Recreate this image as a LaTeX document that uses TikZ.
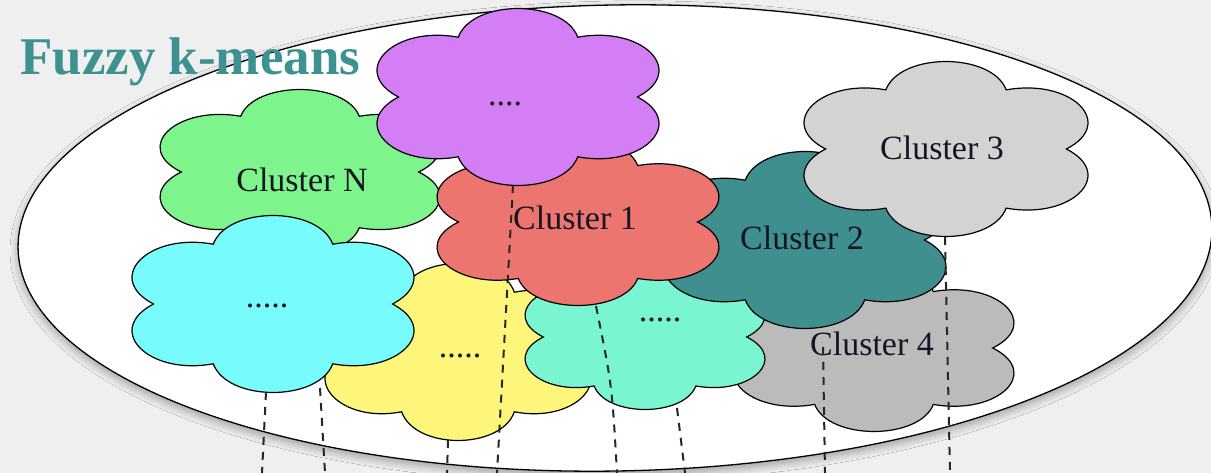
\documentclass[tikz,border=0pt]{standalone}
\usepackage{fontspec}
\setmainfont{Liberation Serif}
\usetikzlibrary{shapes.geometric,shadows.blur,calc}
\definecolor{bg}{RGB}{239,239,239}
\definecolor{titlecol}{RGB}{62,145,145}
\definecolor{cgreen}{RGB}{125,244,140}
\definecolor{cpurple}{RGB}{212,126,246}
\definecolor{cred}{RGB}{236,117,112}
\definecolor{cteal}{RGB}{64,143,143}
\definecolor{clgray}{RGB}{211,211,211}
\definecolor{cgray}{RGB}{187,187,187}
\definecolor{ccyan}{RGB}{120,251,253}
\definecolor{cyellow}{RGB}{254,246,122}
\definecolor{caqua}{RGB}{122,245,210}
\definecolor{txt}{RGB}{22,22,34}
% #1 centre coordinate, #2 half width, #3 half height, #4 fill colour
\newcommand\cloudshape[4]{%
  \pgfmathsetmacro\crx{#2/0.92}%
  \draw[cloudline, fill=#4] ($(#1)+({0.78*\crx},0)$)
    foreach \i in {0,...,5}{
      .. controls ($(#1)+({1.147*\crx*cos(60*\i+15)},{1.147*#3*sin(60*\i+15)})$)
         and ($(#1)+({1.147*\crx*cos(60*\i+45)},{1.147*#3*sin(60*\i+45)})$)
      .. ($(#1)+({0.78*\crx*cos(60*\i+60)},{0.78*#3*sin(60*\i+60)})$)
    } -- cycle;}
\begin{document}
\begin{tikzpicture}[x=1pt,y=-1pt,
  cloudline/.style={draw=black, line width=1.2pt, line join=miter},
  lbl/.style={font=\fontsize{34}{37}\selectfont, text=txt, inner sep=0pt},
  dline/.style={draw=black!85, line width=2pt, dash pattern=on 8pt off 7pt}]
\fill[bg] (0,0) rectangle (1211,473);
\useasboundingbox (0,0) rectangle (1211,473);
% big oval
\node[ellipse, draw=black, line width=1.3pt, fill=white, minimum width=1194pt, minimum height=466pt,
  rotate=1, blur shadow={shadow xshift=0pt, shadow yshift=-4pt, shadow blur radius=8pt, shadow blur steps=10, shadow opacity=35}]
  (oval) at (615,238) {};
\node[anchor=base west, inner sep=0pt, text=titlecol, font=\fontsize{53}{57}\selectfont\bfseries] (title) at (20,75) {Fuzzy k-means};
% cloud centres
\coordinate (cN) at (300,172);
\coordinate (c4) at (874,348);
\coordinate (cY) at (458,352);
\coordinate (cC) at (273,304);
\coordinate (cA) at (645,337);
\coordinate (c2) at (805,240);
\coordinate (c3) at (946,149);
\coordinate (c1) at (578,222);
\coordinate (cP) at (518,97);
% clouds, back to front
\cloudshape{cN}{140}{82.5}{cgreen}
\node[lbl] (lN) at (302,180) {Cluster N};
\cloudshape{c4}{140}{83.5}{cgray}
\node[lbl] (l4) at (872,344) {Cluster 4};
\cloudshape{cY}{133}{88.5}{cyellow}
\node[lbl] (lY) at (460,356) {.....};
\cloudshape{cC}{141}{88.5}{ccyan}
\node[lbl] (lC) at (267,306) {.....};
\cloudshape{cA}{120}{72.5}{caqua}
\node[lbl] (lA) at (660,320) {.....};
\cloudshape{c2}{141}{88.5}{cteal}
\node[lbl] (l2) at (802,238) {Cluster 2};
\cloudshape{c3}{142}{87.5}{clgray}
\node[lbl] (l3) at (942,148) {Cluster 3};
\cloudshape{c1}{141}{83.5}{cred}
\node[lbl] (l1) at (575,218) {Cluster 1};
\cloudshape{cP}{141}{88.5}{cpurple}
\node[lbl] (lP) at (505,104) {....};
% dashed line ends
\coordinate (a1) at (266,392); \coordinate (b1) at (262,473);
\coordinate (a2) at (320,388); \coordinate (b2) at (325,473);
\coordinate (a3) at (513,185); \coordinate (b3) at (497,473);
\coordinate (a4) at (448,440); \coordinate (b4) at (447,473);
\coordinate (a5) at (596,306); \coordinate (k5) at (612,385); \coordinate (b5) at (617,473);
\coordinate (a6) at (677,408); \coordinate (b6) at (685,473);
\coordinate (a7) at (823,347); \coordinate (b7) at (825,473);
\coordinate (a8) at (945,237); \coordinate (b8) at (950,473);
\draw[dline] (a1) -- (b1);
\draw[dline] (a2) -- (b2);
\draw[dline] (a3) -- (b3);
\draw[dline] (a4) -- (b4);
\draw[dline] (a5) .. controls (k5) .. (b5);
\draw[dline] (a6) -- (b6);
\draw[dline] (a7) -- (b7);
\draw[dline] (a8) -- (b8);
\end{tikzpicture}
\end{document}
